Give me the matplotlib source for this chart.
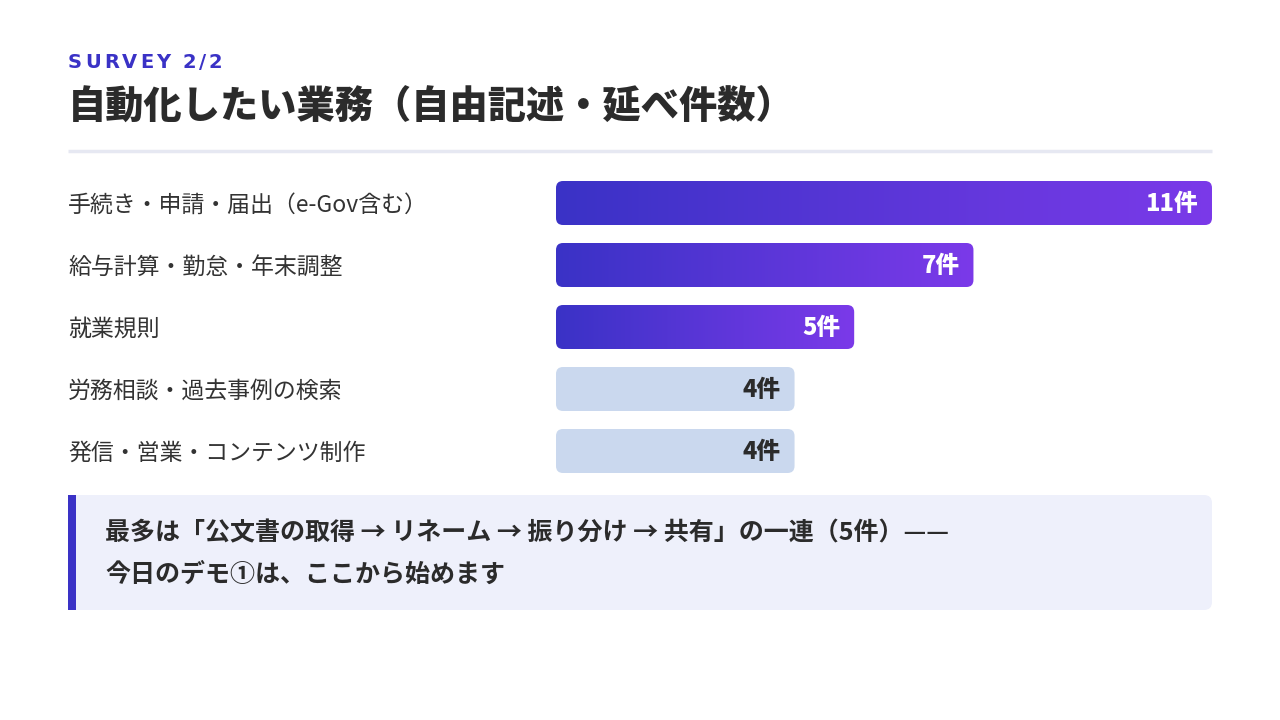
import numpy as np
import matplotlib
matplotlib.use("Agg")
import matplotlib.pyplot as plt
from matplotlib.patches import FancyBboxPatch, Rectangle
from matplotlib.colors import LinearSegmentedColormap
from matplotlib.transforms import blended_transform_factory

plt.rcParams['font.family'] = ['Noto Sans CJK JP', 'DejaVu Sans']

# data
categories = [
    "手続き・申請・届出（e-Gov含む）",
    "給与計算・勤怠・年末調整",
    "就業規則",
    "労務相談・過去事例の検索",
    "発信・営業・コンテンツ制作",
]
counts = [11, 7, 5, 4, 4]
highlight = [True, True, True, False, False]
value_labels = [f"{c}件" for c in counts]

eyebrow = "SURVEY 2/2"
title = "自動化したい業務（自由記述・延べ件数）"
note_lines = [
    "最多は「公文書の取得 → リネーム → 振り分け → 共有」の一連（5件）——",
    "今日のデモ①は、ここから始めます",
]

INDIGO = "#3a32c6"
VIOLET = "#7b3ae9"
LIGHT = "#cad8ee"
TEXT = "#2b2b2b"

W, H = 1280, 720
fig = plt.figure(figsize=(W / 100, H / 100), dpi=100)
fig.patch.set_facecolor("white")

# background axes in pixel coordinates for header / callout decoration
bg = fig.add_axes([0, 0, 1, 1])
bg.set_xlim(0, W)
bg.set_ylim(H, 0)
bg.axis("off")

# eyebrow with letter spacing
fig.canvas.draw()
renderer = fig.canvas.get_renderer()
x = 68
for ch in eyebrow:
    t = bg.text(x, 62, ch, fontsize=14, fontweight="bold", color=INDIGO,
                family="DejaVu Sans", va="center", ha="left")
    bb = t.get_window_extent(renderer=renderer)
    x += bb.width + 3.0 if ch != " " else 9

bg.text(68, 108, title, fontsize=27.5, fontweight="heavy", color=TEXT,
        va="center", ha="left")
bg.plot([68, 1212], [151, 151], color="#e6e8f2", lw=2.5, solid_capstyle="butt")

# callout box
bg.add_patch(FancyBboxPatch((68, 495), 1144, 115,
                            boxstyle="round,pad=0,rounding_size=8",
                            fc="#eef0fb", ec="none"))
bg.add_patch(Rectangle((68, 495), 8, 115, fc=INDIGO, ec="none"))
bg.text(105, 533, note_lines[0], fontsize=18, fontweight="bold", color=TEXT,
        va="center", ha="left")
bg.text(105, 575, note_lines[1], fontsize=18, fontweight="bold", color=TEXT,
        va="center", ha="left")

# bar axes
left, right = 556, 1212
top, bottom = 172, 482
ax = fig.add_axes([left / W, 1 - bottom / H, (right - left) / W, (bottom - top) / H])
ax.set_xlim(0, max(counts))
ax.set_ylim(len(counts) - 0.5, -0.5)
ax.axis("off")

bar_h = 44 / 62
xupp = max(counts) / (right - left)
yupp = len(counts) / (bottom - top)
r = 7 * xupp
cmap = LinearSegmentedColormap.from_list("g", [INDIGO, VIOLET])
grad = np.linspace(0, 1, 256).reshape(1, -1)

for i, (v, hl) in enumerate(zip(counts, highlight)):
    y0 = i - bar_h / 2
    patch = FancyBboxPatch((0, y0), v, bar_h,
                           boxstyle=f"round,pad=0,rounding_size={r}",
                           mutation_aspect=yupp / xupp,
                           fc=LIGHT if not hl else "none", ec="none")
    ax.add_patch(patch)
    if hl:
        im = ax.imshow(grad, cmap=cmap, aspect="auto",
                       extent=(0, v, i + bar_h / 2, y0), zorder=1)
        im.set_clip_path(patch)
    ax.annotate(value_labels[i], (v, i), xytext=(-14, -1), textcoords="offset pixels",
                ha="right", va="center", fontsize=17, fontweight="heavy",
                color="white" if hl else TEXT, zorder=3)

trans = blended_transform_factory(fig.transFigure, ax.transData)
for i, cat in enumerate(categories):
    ax.annotate(cat, (68 / W, i), xycoords=trans, xytext=(0, -2),
                textcoords="offset pixels", ha="left", va="center",
                fontsize=16.5, color="#333333", annotation_clip=False)

fig.savefig("out.png", dpi=100)
